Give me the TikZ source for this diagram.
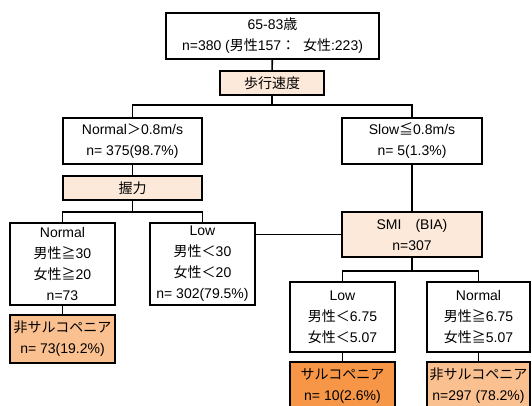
\documentclass[tikz,border=0pt]{standalone}
\usepackage{fontspec}
\setmainfont{Liberation Sans}
\newfontfamily\jpfont{Noto Sans CJK JP}
\newcommand\J[1]{{\jpfont #1}}
\definecolor{lightor}{HTML}{FDE9D9}
\definecolor{midor}{HTML}{FAC090}
\definecolor{strongor}{HTML}{F79646}
\begin{document}
\begin{tikzpicture}[x=1pt,y=-1pt,
  box/.style={draw, line width=1.6pt, align=center, inner sep=0pt,
    font=\fontsize{14}{21}\selectfont, text=black},
  conn/.style={line width=1.6pt}]
\useasboundingbox (0,0) rectangle (532,406);
\clip (0,0) rectangle (532,406);
\node[box, minimum width=213pt, minimum height=46pt] (top) at (272.5,36)
  {65-83\J{歳}\\n=380 (\J{男性}157\J{：}\ \ \J{女性}:223)};
\node[box, fill=lightor, minimum width=104pt, minimum height=24pt] (walk) at (272,83) {\J{歩行速度}};
\node[box, minimum width=139pt, minimum height=46pt] (fast) at (132.5,141)
  {Normal\J{＞}0.8m/s\\n= 375(98.7\%)};
\node[box, minimum width=140pt, minimum height=46pt] (slow) at (412,141)
  {Slow\J{≦}0.8m/s\\n= 5(1.3\%)};
\node[box, fill=lightor, minimum width=139pt, minimum height=24pt] (grip) at (132.5,188) {\J{握力}};
\node[box, minimum width=105pt, minimum height=82pt] (gnorm) at (62.5,264)
  {Normal\\\J{男性≧}30\\\J{女性≧}20\\n=73};
\node[box, minimum width=105pt, minimum height=82pt] (glow) at (202.5,264)
  {Low\\\J{男性＜}30\\\J{女性＜}20\\n= 302(79.5\%)};
\node[box, fill=lightor, minimum width=140pt, minimum height=45pt] (smi) at (412,234.5)
  {SMI\J{　}(BIA)\\n=307};
\node[box, fill=midor, minimum width=105pt, minimum height=48pt] (non1) at (62.5,339)
  {\J{非サルコペニア}\\n= 73(19.2\%)};
\node[box, minimum width=105pt, minimum height=70pt] (slow2) at (342.5,317)
  {Low\\\J{男性＜}6.75\\\J{女性＜}5.07};
\node[box, minimum width=103pt, minimum height=70pt] (norm2) at (478.5,317)
  {Normal\\\J{男性≧}6.75\\\J{女性≧}5.07};
\node[box, fill=strongor, minimum width=105pt, minimum height=48pt] (sarc) at (342.5,386)
  {\J{サルコペニア}\\n= 10(2.6\%)};
\node[box, fill=midor, minimum width=103pt, minimum height=48pt] (non2) at (478.5,386)
  {\J{非サルコペニア}\\n=297 (78.2\%)};
% connectors
\draw[conn] (top) -- (walk);
\coordinate (j1) at (272,105);
\draw[conn] (walk.south) -- (j1);
\draw[conn] (fast.north) |- (j1) -| (slow.north);
\draw[conn] (fast) -- (grip);
\coordinate (j2) at (132.5,212);
\draw[conn] (grip.south) -- (j2);
\draw[conn] (gnorm.north) |- (j2) -| (glow.north);
\draw[conn] (slow) -- (smi);
\draw[conn] (smi.west) -- (smi.west -| glow.east);
\coordinate (j3) at (412,271);
\draw[conn] (smi.south) -- (j3);
\draw[conn] (slow2.north) |- (j3) -| (norm2.north);
\draw[conn] (gnorm) -- (non1);
\draw[conn] (slow2) -- (sarc);
\draw[conn] (norm2) -- (non2);
\end{tikzpicture}
\end{document}
